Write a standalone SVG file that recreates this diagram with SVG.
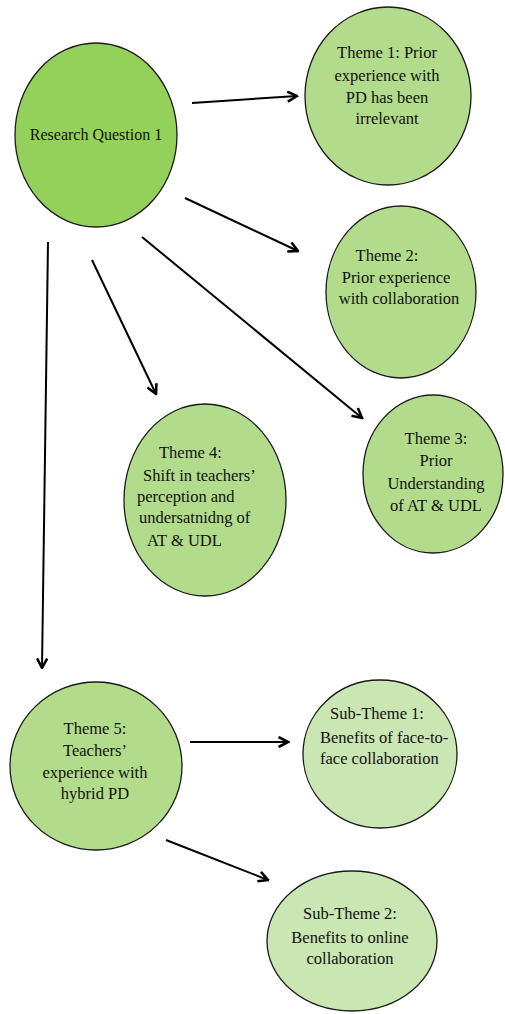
<svg xmlns="http://www.w3.org/2000/svg" width="505" height="1014" viewBox="0 0 505 1014">
<defs>
<style>
.n{stroke:#1a1a1a;stroke-width:1.3}
.rq{fill:#93d15b}
.th{fill:#b2dc8c}
.st{fill:#c9e6b3}
text{font-family:"Liberation Serif","Times New Roman",serif;font-size:16.5px;fill:#111}
.c{text-anchor:middle}
.e{stroke:#000;stroke-width:2;fill:none}
</style>
<marker id="ah" viewBox="0 0 12 12" refX="10.5" refY="6" markerWidth="6" markerHeight="6" markerUnits="strokeWidth" orient="auto">
<path d="M1,1 L10.5,6 L1,11" fill="none" stroke="#000" stroke-width="2.6" stroke-linejoin="miter"/>
</marker>
</defs>
<rect width="505" height="1014" fill="#fff"/>
<g id="edges">
<line class="e" x1="192" y1="103" x2="297" y2="96" marker-end="url(#ah)"/>
<line class="e" x1="185" y1="198" x2="298" y2="251" marker-end="url(#ah)"/>
<line class="e" x1="142" y1="237" x2="362" y2="418" marker-end="url(#ah)"/>
<line class="e" x1="92" y1="260" x2="156" y2="394" marker-end="url(#ah)"/>
<line class="e" x1="48" y1="242" x2="42" y2="668" marker-end="url(#ah)"/>
<line class="e" x1="190" y1="742" x2="288" y2="742" marker-end="url(#ah)"/>
<line class="e" x1="166" y1="840" x2="268" y2="880" marker-end="url(#ah)"/>
</g>
<g id="rq1">
<ellipse class="n rq" cx="96" cy="135" rx="81" ry="92"/>
<text class="c" x="96" y="140" style="font-size:16px">Research Question 1</text>
</g>
<g id="theme1">
<ellipse class="n th" cx="388" cy="96" rx="83" ry="89"/>
<text class="c" x="387" y="58">Theme 1: Prior</text>
<text class="c" x="387" y="81">experience with</text>
<text class="c" x="387" y="103">PD has been</text>
<text class="c" x="387" y="124">irrelevant</text>
</g>
<g id="theme2">
<ellipse class="n th" cx="401" cy="292" rx="75" ry="86"/>
<text class="c" x="387" y="261">Theme 2:</text>
<text class="c" x="396" y="283">Prior experience</text>
<text class="c" x="399" y="304">with collaboration</text>
</g>
<g id="theme3">
<ellipse class="n th" cx="433" cy="474" rx="70" ry="79"/>
<text class="c" x="436" y="444">Theme 3:</text>
<text class="c" x="436" y="466">Prior</text>
<text class="c" x="436" y="489">Understanding</text>
<text class="c" x="436" y="511">of AT &amp; UDL</text>
</g>
<g id="theme4">
<ellipse class="n th" cx="205" cy="500" rx="81" ry="96"/>
<text x="159" y="458">Theme 4:</text>
<text x="143" y="481">Shift in teachers’</text>
<text x="137" y="502">perception and</text>
<text x="139" y="523">undersatnidng of</text>
<text x="147" y="546">AT &amp; UDL</text>
</g>
<g id="theme5">
<ellipse class="n th" cx="96" cy="766" rx="86" ry="84"/>
<text class="c" x="95" y="734">Theme 5:</text>
<text class="c" x="95" y="756">Teachers’</text>
<text class="c" x="95" y="778">experience with</text>
<text class="c" x="95" y="799">hybrid PD</text>
</g>
<g id="sub1">
<ellipse class="n st" cx="380" cy="754" rx="77" ry="74"/>
<text class="c" x="377" y="719">Sub-Theme 1:</text>
<text x="320" y="743">Benefits of face-to-</text>
<text x="320" y="764">face collaboration</text>
</g>
<g id="sub2">
<ellipse class="n st" cx="352" cy="941" rx="85" ry="70"/>
<text class="c" x="350" y="919">Sub-Theme 2:</text>
<text class="c" x="350" y="943">Benefits to online</text>
<text class="c" x="350" y="964">collaboration</text>
</g>
</svg>
